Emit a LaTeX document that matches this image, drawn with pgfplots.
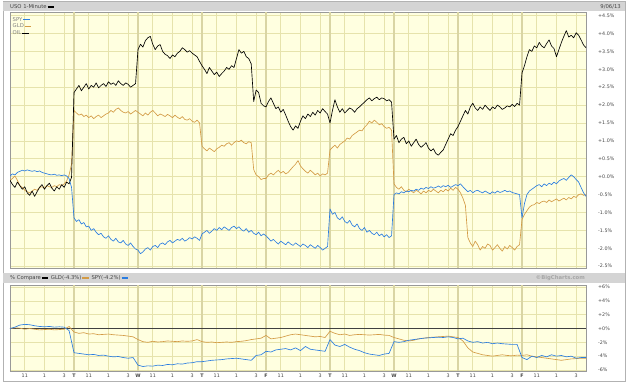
\documentclass[border=0pt]{standalone}
\usepackage{fontspec}
\setmainfont{DejaVu Sans}
\usepackage{pgfplots}
\usepackage{pgfplotstable}
\pgfplotsset{compat=1.18}
\definecolor{plotbg}{HTML}{FFFFE0}
\definecolor{gridc}{HTML}{E6E3AC}
\definecolor{dayc}{HTML}{D9D5A4}
\definecolor{hdr}{HTML}{D4D4D4}
\definecolor{txt}{HTML}{444444}
\definecolor{gldc}{HTML}{D39B45}
\definecolor{spyc}{HTML}{2A7DE1}
\newcommand{\sm}{\fontsize{4.8}{5.5}\selectfont}
\newcommand{\hd}{\fontsize{5.3}{6}\selectfont}
\newcommand{\dash}[1]{\,\textcolor{#1}{\rule[0.9pt]{6.5pt}{1.3pt}}\,}

\pgfplotstableread{
t oil gld spy
0 -0.10 -0.10 0.02
0.25 -0.22 -0.05 0.08
0.5 -0.30 0.02 0.05
0.75 -0.15 -0.10 0.12
1 -0.25 -0.25 0.15
1.25 -0.35 -0.30 0.18
1.5 -0.28 -0.38 0.16
1.75 -0.45 -0.42 0.19
2 -0.52 -0.45 0.17
2.25 -0.40 -0.40 0.15
2.5 -0.55 -0.35 0.17
2.75 -0.42 -0.38 0.14
3 -0.30 -0.30 0.16
3.25 -0.22 -0.28 0.12
3.5 -0.35 -0.32 0.10
3.75 -0.25 -0.25 0.08
4 -0.18 -0.28 0.06
4.25 -0.32 -0.30 0.05
4.5 -0.40 -0.25 0.07
4.75 -0.28 -0.28 0.04
5 -0.35 -0.22 0.05
5.25 -0.22 -0.25 0.03
5.5 -0.30 -0.20 0.05
5.75 -0.15 -0.12 0.02
6 -0.20 0.05 -0.05
6.25 -0.02 0.35 -0.30
6.5 2.35 1.85 -1.15
6.75 2.45 1.78 -1.25
7 2.55 1.72 -1.20
7.25 2.40 1.75 -1.32
7.5 2.50 1.68 -1.28
7.75 2.60 1.72 -1.40
8 2.45 1.65 -1.38
8.25 2.55 1.70 -1.50
8.5 2.50 1.62 -1.45
8.75 2.62 1.68 -1.55
9 2.48 1.72 -1.62
9.25 2.55 1.65 -1.58
9.5 2.60 1.70 -1.68
9.75 2.52 1.75 -1.72
10 2.65 1.78 -1.65
10.25 2.58 1.85 -1.75
10.5 2.62 1.80 -1.80
10.75 2.55 1.88 -1.72
11 2.68 1.92 -1.82
11.25 2.60 1.85 -1.85
11.5 2.55 1.80 -1.78
11.75 2.62 1.78 -1.88
12 2.58 1.82 -1.92
12.25 2.50 1.75 -1.85
12.5 2.55 1.80 -1.95
12.75 2.60 1.85 -2.02
13 3.55 1.80 -2.05
13.25 3.70 1.75 -2.15
13.5 3.62 1.70 -2.10
13.75 3.80 1.78 -2.02
14 3.88 1.72 -1.98
14.25 3.92 1.80 -2.05
14.5 3.70 1.85 -1.95
14.75 3.55 1.78 -1.92
15 3.65 1.70 -1.98
15.25 3.69 1.75 -1.88
15.5 3.50 1.72 -1.85
15.75 3.42 1.68 -1.90
16 3.38 1.74 -1.82
16.25 3.30 1.70 -1.78
16.5 3.40 1.65 -1.85
16.75 3.35 1.72 -1.80
17 3.45 1.66 -1.75
17.25 3.50 1.62 -1.78
17.5 3.60 1.68 -1.72
17.75 3.55 1.60 -1.80
18 3.48 1.58 -1.76
18.25 3.52 1.62 -1.70
18.5 3.45 1.55 -1.74
18.75 3.40 1.52 -1.68
19 3.35 1.58 -1.72
19.25 3.22 1.50 -1.78
19.5 3.10 0.85 -1.60
19.75 3.00 0.78 -1.55
20 2.88 0.72 -1.50
20.25 3.05 0.80 -1.58
20.5 2.95 0.75 -1.52
20.75 2.85 0.70 -1.45
21 2.92 0.78 -1.50
21.25 2.80 0.82 -1.42
21.5 2.88 0.88 -1.48
21.75 2.95 0.85 -1.40
22 3.05 0.92 -1.45
22.25 3.00 0.95 -1.50
22.5 3.10 0.88 -1.42
22.75 3.05 0.95 -1.38
23 3.30 1.00 -1.45
23.25 3.55 0.98 -1.40
23.5 3.45 1.02 -1.48
23.75 3.50 0.95 -1.52
24 3.35 0.92 -1.45
24.25 3.30 0.98 -1.55
24.5 3.15 0.95 -1.50
24.75 2.10 0.20 -1.58
25 2.42 0.05 -1.62
25.25 2.35 0.00 -1.55
25.5 2.05 -0.08 -1.65
25.75 1.98 -0.05 -1.60
26 1.95 -0.05 -1.65
26.25 2.10 0.05 -1.72
26.5 2.20 0.10 -1.80
26.75 2.05 0.05 -1.75
27 1.90 0.12 -1.82
27.25 1.95 0.18 -1.88
27.5 1.80 0.10 -1.80
27.75 1.88 0.15 -1.85
28 1.72 0.08 -1.90
28.25 1.55 0.12 -1.82
28.5 1.40 0.20 -1.88
28.75 1.30 0.28 -1.92
29 1.42 0.35 -1.85
29.25 1.35 0.45 -1.90
29.5 1.55 0.30 -1.95
29.75 1.70 0.22 -1.88
30 1.62 0.15 -1.92
30.25 1.75 0.10 -1.98
30.5 1.68 0.18 -1.90
30.75 1.80 0.12 -1.95
31 1.72 0.05 -2.00
31.25 1.85 0.10 -1.92
31.5 1.78 0.02 -1.98
31.75 1.90 0.08 -2.05
32 1.82 0.05 -2.00
32.25 1.75 0.10 -1.95
32.5 1.50 0.75 -0.90
32.75 1.85 0.82 -1.05
33 2.15 0.88 -1.00
33.25 1.95 0.80 -1.15
33.5 1.80 0.90 -1.20
33.75 1.90 0.95 -1.12
34 1.78 1.00 -1.25
34.25 1.85 1.08 -1.30
34.5 1.92 1.05 -1.22
34.75 1.88 1.15 -1.35
35 1.80 1.20 -1.40
35.25 1.90 1.25 -1.32
35.5 1.95 1.30 -1.45
35.75 2.02 1.28 -1.50
36 2.08 1.38 -1.42
36.25 2.15 1.45 -1.55
36.5 2.20 1.55 -1.50
36.75 2.12 1.50 -1.58
37 2.18 1.58 -1.62
37.25 2.22 1.52 -1.55
37.5 2.15 1.45 -1.65
37.75 2.20 1.48 -1.60
38 2.18 1.40 -1.68
38.25 2.12 1.35 -1.62
38.5 2.15 1.38 -1.70
38.75 2.08 1.30 -1.65
39 1.05 -0.20 -0.50
39.25 1.15 -0.30 -0.45
39.5 0.95 -0.35 -0.48
39.75 1.05 -0.28 -0.42
40 1.10 -0.38 -0.45
40.25 0.92 -0.42 -0.40
40.5 1.00 -0.35 -0.42
40.75 0.85 -0.40 -0.38
41 0.95 -0.45 -0.40
41.25 1.05 -0.38 -0.35
41.5 0.90 -0.42 -0.38
41.75 0.82 -0.48 -0.32
42 0.88 -0.40 -0.35
42.25 0.95 -0.45 -0.30
42.5 0.80 -0.38 -0.33
42.75 0.72 -0.42 -0.28
43 0.78 -0.35 -0.32
43.25 0.65 -0.40 -0.30
43.5 0.60 -0.45 -0.26
43.75 0.68 -0.38 -0.30
44 0.75 -0.42 -0.25
44.25 0.90 -0.35 -0.28
44.5 1.05 -0.40 -0.24
44.75 1.20 -0.32 -0.30
45 1.15 -0.38 -0.26
45.25 1.30 -0.30 -0.22
45.5 1.40 -0.35 -0.25
45.75 1.55 -0.45 -0.20
46 1.70 -0.60 -0.28
46.25 1.85 -0.80 -0.35
46.5 1.75 -1.70 -0.42
46.75 1.95 -1.85 -0.38
47 2.05 -1.95 -0.45
47.25 1.92 -1.80 -0.40
47.5 1.85 -1.90 -0.38
47.75 1.95 -2.05 -0.42
48 1.88 -1.95 -0.45
48.25 2.00 -2.00 -0.40
48.5 1.92 -1.88 -0.44
48.75 1.85 -1.92 -0.48
49 1.95 -2.05 -0.42
49.25 1.90 -1.98 -0.46
49.5 2.00 -1.90 -0.40
49.75 1.95 -2.00 -0.44
50 1.88 -2.08 -0.42
50.25 1.92 -1.95 -0.38
50.5 1.98 -2.02 -0.42
50.75 1.95 -1.92 -0.40
51 2.02 -1.98 -0.44
51.25 1.96 -2.05 -0.46
51.5 2.05 -1.95 -0.48
51.75 2.00 -1.90 -0.50
52 2.90 -1.20 -1.15
52.25 3.10 -1.05 -0.75
52.5 3.35 -0.95 -0.50
52.75 3.55 -0.85 -0.40
53 3.50 -0.80 -0.35
53.25 3.65 -0.78 -0.30
53.5 3.60 -0.72 -0.25
53.75 3.75 -0.75 -0.22
54 3.65 -0.70 -0.28
54.25 3.60 -0.68 -0.20
54.5 3.72 -0.72 -0.25
54.75 3.82 -0.65 -0.18
55 3.65 -0.70 -0.22
55.25 3.58 -0.66 -0.15
55.5 3.35 -0.62 -0.20
55.75 3.55 -0.68 -0.12
56 3.75 -0.64 -0.08
56.25 3.92 -0.60 -0.05
56.5 4.08 -0.65 -0.10
56.75 3.90 -0.58 -0.02
57 3.95 -0.62 0.05
57.25 3.88 -0.55 0.00
57.5 4.02 -0.58 -0.08
57.75 3.95 -0.50 -0.15
58 3.82 -0.48 -0.30
58.25 3.68 -0.52 -0.45
58.5 3.60 -0.50 -0.55
}\toptab

\pgfplotstableread{
t gld spy
0 0 0
0.5 0.1 0.2
1 0.05 0.5
1.5 -0.1 0.6
2 0.0 0.55
2.5 -0.1 0.4
3 -0.2 0.3
3.5 -0.15 0.25
4 -0.1 0.3
4.5 -0.2 0.2
5 -0.15 0.25
5.5 -0.1 0.2
6 0.3 -0.3
6.5 -0.5 -3.5
7 -0.7 -3.6
7.5 -0.6 -3.7
8 -0.8 -3.8
8.5 -0.75 -3.75
9 -0.9 -3.9
9.5 -0.85 -3.85
10 -0.8 -4.0
10.5 -0.9 -4.1
11 -0.95 -4.05
11.5 -1.0 -4.2
12 -1.1 -4.3
12.5 -1.2 -4.2
13 -1.6 -5.3
13.5 -1.9 -5.5
14 -2.0 -5.4
14.5 -1.85 -5.45
15 -1.95 -5.3
15.5 -1.9 -5.35
16 -1.8 -5.2
16.5 -1.85 -5.25
17 -1.9 -5.1
17.5 -1.8 -5.15
18 -1.85 -5.0
18.5 -1.8 -4.95
19 -1.6 -4.8
19.5 -1.9 -4.8
20 -2.0 -4.7
20.5 -1.95 -4.6
21 -2.05 -4.55
21.5 -2.0 -4.5
22 -1.95 -4.4
22.5 -2.0 -4.35
23 -1.9 -4.3
23.5 -1.85 -4.4
24 -1.75 -4.5
24.5 -1.6 -4.6
25 -1.5 -3.9
25.5 -1.4 -3.8
26 -1.0 -3.3
26.5 -1.5 -3.4
27 -1.4 -3.1
27.5 -1.3 -3.0
28 -1.1 -2.9
28.5 -0.9 -3.1
29 -0.8 -2.8
29.5 -0.9 -3.2
30 -1.0 -2.6
30.5 -1.1 -3.0
31 -1.2 -3.1
31.5 -1.15 -3.2
32 -1.3 -3.3
32.5 -0.4 -1.6
33 -0.7 -2.4
33.5 -0.9 -2.6
34 -0.8 -2.3
34.5 -1.0 -2.7
35 -0.9 -3.0
35.5 -0.85 -3.2
36 -0.9 -3.5
36.5 -0.95 -3.7
37 -0.9 -3.8
37.5 -0.85 -3.9
38 -0.95 -3.7
38.5 -1.0 -3.6
39 -1.3 -1.9
39.5 -1.5 -2.0
40 -1.7 -1.9
40.5 -1.8 -1.7
41 -1.7 -1.6
41.5 -1.5 -1.5
42 -1.4 -1.4
42.5 -1.3 -1.35
43 -1.25 -1.3
43.5 -1.2 -1.25
44 -1.15 -1.3
44.5 -1.1 -1.2
45 -1.2 -1.3
45.5 -1.3 -1.5
46 -1.8 -1.4
46.5 -2.8 -1.8
47 -3.4 -2.0
47.5 -3.6 -1.9
48 -3.8 -2.1
48.5 -3.9 -2.0
49 -4.0 -2.2
49.5 -3.9 -2.1
50 -3.8 -2.2
50.5 -3.9 -2.25
51 -3.95 -2.3
51.5 -3.85 -2.3
52 -3.9 -4.2
52.5 -3.8 -4.5
53 -4.0 -4.0
53.5 -4.1 -4.2
54 -4.2 -3.9
54.5 -4.3 -4.1
55 -4.4 -3.8
55.5 -4.5 -4.0
56 -4.6 -3.9
56.5 -4.5 -4.1
57 -4.4 -4.0
57.5 -4.35 -4.3
58 -4.3 -4.2
58.5 -4.3 -4.2
}\lowtab

\pgfplotsset{
  bcstyle/.style={
    scale only axis, anchor=south west, width=576pt,
    xmin=0, xmax=58.5,
    axis background/.style={fill=plotbg},
    axis line style={draw=gray!80, line width=0.6pt},
    grid=major,
    major grid style={gridc, line width=0.7pt},
    major tick length=0pt,
    xtick={1.5,3.5,5.5,8,10,12,14.5,16.5,18.5,21,23,25,27.5,29.5,31.5,34,36,38,40.5,42.5,44.5,47,49,51,53.5,55.5,57.5},
    extra x ticks={6.5,13,19.5,26,32.5,39,45.5,52},
    extra x tick style={major grid style={dayc, line width=1.2pt}},
    yticklabel pos=right,
    yticklabel style={anchor=west, inner sep=0pt, xshift=12pt, font=\sm, text=txt},
    xticklabel style={anchor=north, inner sep=0pt, yshift=-3pt, font=\sm, text=txt},
    every axis plot/.append style={line width=0.65pt, line join=round},
  }
}

\begin{document}
\begin{tikzpicture}[x=1pt,y=1pt]
\path[use as bounding box] (0,0) rectangle (628,384);
\fill[white] (0,0) rectangle (628,384);
\draw[gray!60, line width=0.8pt] (3,3) rectangle (625,382.5);
% top header
\fill[hdr] (3.4,373) rectangle (624.6,382.1);
\node[anchor=west, inner sep=0pt, font=\hd, text=txt] at (10,377.5) {USO 1-Minute\dash{black}};
\node[anchor=east, inner sep=0pt, font=\hd, text=txt] at (621,377.5) {9/06/13};
% lower header
\fill[hdr] (3.4,101) rectangle (624.6,111);
\node[anchor=west, inner sep=0pt, font=\hd, text=txt] at (10,106) {\% Compare\dash{black}\ GLD(-4.3\%)\dash{gldc}\ SPY(-4.2\%)\dash{spyc}};
\node[anchor=east, inner sep=0pt, font=\hd\bfseries, text=gray!70] at (585,106) {\textcopyright BigCharts.com};

\begin{axis}[bcstyle, at={(10pt,116pt)}, height=256pt,
  ymin=-2.55, ymax=4.6,
  xticklabels={}, extra x tick labels={},
  ytick={-2.5,-2,-1.5,-1,-0.5,0,0.5,1,1.5,2,2.5,3,3.5,4,4.5},
  yticklabels={-2.5\%,-2.0\%,-1.5\%,-1.0\%,-0.5\%,+0.0\%,+0.5\%,+1.0\%,+1.5\%,+2.0\%,+2.5\%,+3.0\%,+3.5\%,+4.0\%,+4.5\%},
]
\addplot[gldc] table[x=t, y=gld] {\toptab};
\addplot[black] table[x=t, y=oil] {\toptab};
\addplot[spyc] table[x=t, y=spy] {\toptab};
\end{axis}
% legend of top panel
\node[anchor=west, inner sep=0pt, font=\hd, text=gray] at (12.5,364.7) {SPY\dash{spyc}};
\node[anchor=west, inner sep=0pt, font=\hd, text=gray] at (12.5,358.0) {GLD\dash{gldc}};
\node[anchor=west, inner sep=0pt, font=\hd, text=gray] at (12.5,351.2) {OIL\dash{black}};

\begin{axis}[bcstyle, at={(10pt,13pt)}, height=86pt,
  ymin=-6.15, ymax=6.3,
  xticklabels={11,1,3,11,1,3,11,1,3,11,1,3,11,1,3,11,1,3,11,1,3,11,1,3,11,1,3},
  extra x tick labels={\textbf{T},\textbf{W},\textbf{T},\textbf{F},\textbf{T},\textbf{W},\textbf{T},\textbf{F}},
  ytick={-6,-4,-2,2,4,6},
  yticklabels={-6\%,-4\%,-2\%,+2\%,+4\%,+6\%},
  extra y ticks={0}, extra y tick labels={+0\%},
  extra y tick style={major grid style={black!75, line width=0.8pt}},
]
\addplot[gldc] table[x=t, y=gld] {\lowtab};
\addplot[spyc] table[x=t, y=spy] {\lowtab};
\end{axis}
\end{tikzpicture}
\end{document}
